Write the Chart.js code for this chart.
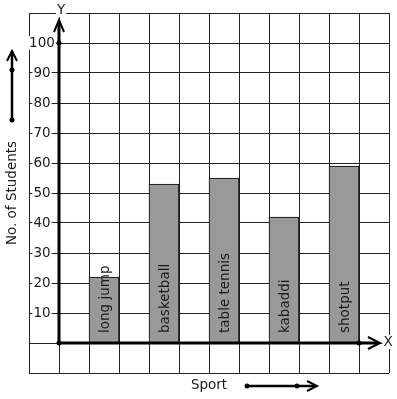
<!DOCTYPE html>
<html>
<head>
<meta charset="utf-8">
<script src="https://cdn.jsdelivr.net/npm/chart.js@4"></script>
<style>
  body { margin: 0; background: #fff; }
  #wrap { width: 397px; height: 399px; }
</style>
</head>
<body>
<div id="wrap"><canvas id="barChart" width="397" height="399"></canvas></div>
<script>
// data
const sports = ['long jump', 'basketball', 'table tennis', 'kabaddi', 'shotput'];
const students = [22, 53, 55, 42, 59];
const yTicks = [10, 20, 30, 40, 50, 60, 70, 80, 90, 100];

// the grid has 12 columns: two empty ones, then a sport and a gap each
const slots = ['', ''];
const slotValues = [null, null];
sports.forEach(function (s, i) {
    slots.push(s, '');
    slotValues.push(students[i], null);
});

const FONT = '13.5px "DejaVu Sans", sans-serif';
const INK = '#1a1a1a';

function dot(ctx, x, y) {
    ctx.beginPath();
    ctx.arc(x, y, 2.5, 0, Math.PI * 2);
    ctx.fill();
}

function boxedText(ctx, text, x, y) {
    const w = ctx.measureText(text).width;
    ctx.fillStyle = '#fff';
    ctx.fillRect(x - w / 2 - 1, y - 7, w + 2, 14);
    ctx.fillStyle = INK;
    ctx.fillText(text, x, y);
}

const decorations = {
    id: 'decorations',
    afterDraw: function (chart) {
        const ctx = chart.ctx;
        const xs = chart.scales.x;
        const ys = chart.scales.y;
        const cell = xs.width / slots.length;
        const ox = xs.getPixelForValue(0) + cell / 2;   // y axis position
        const oy = ys.getPixelForValue(0);              // x axis position
        const top = ys.getPixelForValue(100);

        ctx.save();
        ctx.font = FONT;
        ctx.fillStyle = INK;
        ctx.strokeStyle = '#000';

        // labels inside the bars
        const meta = chart.getDatasetMeta(0);
        meta.data.forEach(function (bar, i) {
            if (slotValues[i] == null) return;
            ctx.save();
            ctx.translate(bar.x + 1, oy - 10);
            ctx.rotate(-Math.PI / 2);
            ctx.textAlign = 'left';
            ctx.textBaseline = 'middle';
            ctx.fillText(slots[i], 0, 0);
            ctx.restore();
        });

        // y tick labels
        ctx.textAlign = 'center';
        ctx.textBaseline = 'middle';
        yTicks.forEach(function (v) {
            boxedText(ctx, String(v), chart.chartArea.left + 13, ys.getPixelForValue(v));
        });
        boxedText(ctx, 'Y', ox + 2, chart.chartArea.top - 3);
        boxedText(ctx, 'X', chart.chartArea.right - 1, oy - 1);

        // axes
        ctx.lineWidth = 3;
        ctx.beginPath();
        ctx.moveTo(ox, oy);
        ctx.lineTo(ox, top - 22);
        ctx.moveTo(ox, oy);
        ctx.lineTo(chart.chartArea.right - 10, oy);
        ctx.stroke();
        ctx.lineWidth = 2;
        ctx.beginPath();
        ctx.moveTo(ox - 5, top - 11);
        ctx.lineTo(ox, top - 23);
        ctx.lineTo(ox + 5, top - 11);
        ctx.moveTo(chart.chartArea.right - 21, oy - 6);
        ctx.lineTo(chart.chartArea.right - 9, oy);
        ctx.lineTo(chart.chartArea.right - 21, oy + 6);
        ctx.stroke();
        ctx.fillStyle = '#000';
        dot(ctx, ox, top);
        dot(ctx, ox, oy);
        dot(ctx, chart.chartArea.right - 30, oy);

        // axis titles with their arrows
        ctx.fillStyle = INK;
        ctx.save();
        ctx.translate(12, 193);
        ctx.rotate(-Math.PI / 2);
        ctx.fillText('No. of Students', 0, 0);
        ctx.restore();
        ctx.fillText('Sport', 209, 385);

        ctx.fillStyle = '#000';
        ctx.lineWidth = 2.5;
        ctx.beginPath();
        ctx.moveTo(12, 120);
        ctx.lineTo(12, 51);
        ctx.moveTo(247, 386);
        ctx.lineTo(316, 386);
        ctx.stroke();
        ctx.lineWidth = 2;
        ctx.beginPath();
        ctx.moveTo(7, 61);
        ctx.lineTo(12, 51);
        ctx.lineTo(17, 61);
        ctx.moveTo(307, 381);
        ctx.lineTo(317, 386);
        ctx.lineTo(307, 391);
        ctx.stroke();
        dot(ctx, 12, 120);
        dot(ctx, 12, 70);
        dot(ctx, 247, 386);
        dot(ctx, 297, 386);
        ctx.restore();
    }
};

const ctx = document.getElementById('barChart').getContext('2d');
const barChart = new Chart(ctx, {
    type: 'bar',
    data: {
        labels: slots,
        datasets: [{
            data: slotValues,
            backgroundColor: '#999999',
            borderColor: '#000',
            borderWidth: 1,
            barPercentage: 1,
            categoryPercentage: 1
        }]
    },
    options: {
        responsive: false,
        animation: false,
        layout: {
            padding: { left: 29, top: 13, right: 8, bottom: 26 }
        },
        plugins: {
            legend: { display: false },
            tooltip: { enabled: false }
        },
        scales: {
            x: {
                grid: { color: '#222', lineWidth: 1, drawTicks: false, offset: true },
                border: { display: false },
                ticks: { display: false }
            },
            y: {
                min: -10,
                max: 110,
                grid: { color: '#222', lineWidth: 1, drawTicks: false },
                border: { display: false },
                ticks: { display: false, stepSize: 10 }
            }
        }
    },
    plugins: [decorations]
});
</script>
</body>
</html>
